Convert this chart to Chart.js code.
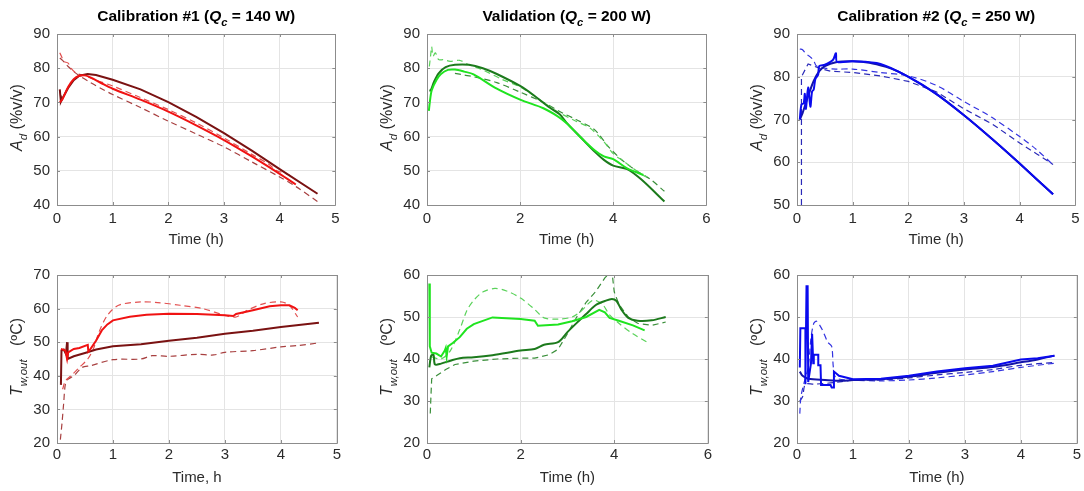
<!DOCTYPE html>
<html lang="en">
<head>
  <meta charset="UTF-8">
  <title>Calibration and validation</title>
  <style>
    body {
      margin: 0;
      padding: 0;
      background-color: #fff;
    }

    #figure {
      position: relative;
      width: 1084px;
      height: 491px;
      overflow: hidden;
    }

    #figure canvas {
      position: absolute;
    }
  </style>
  <script src="https://cdn.jsdelivr.net/npm/chart.js"></script>
</head>
<body>
  <div id="figure"></div>

  <script>
    // ---- data: [time (h), value] ----

    // Calibration #1, A_d (%v/v)
    const cal1AdSolidBright = [[0.05,70],[0.1,71],[0.2,74.5],[0.3,76.8],[0.4,77.8],[0.5,77.9],[0.6,77.3],[0.8,75.6],[1,74],[1.5,70.8],[2,67.3],[2.5,63.3],[3,59],[3.5,54.2],[4,49.1],[4.29,46]];
    const cal1AdSolidDark = [[0.05,73.8],[0.06,72],[0.07,70.2],[0.1,71.2],[0.2,74.2],[0.3,76.5],[0.4,77.8],[0.55,78.3],[0.7,78],[1,76.6],[1.5,73.8],[2,70.1],[2.5,65.8],[3,61],[3.5,55.9],[4,50.5],[4.68,43.3]];
    const cal1AdDashBright = [[0.05,84.5],[0.08,83.5],[0.12,82],[0.2,81.5],[0.25,80],[0.35,78.5],[0.5,77.8],[0.7,76.5],[1,74.8],[1.5,71.4],[2,67.9],[2.5,64],[3,59.6],[3.5,54.8],[3.8,52],[3.95,50],[4.1,49.3],[4.2,48.5]];
    const cal1AdDashDark = [[0.05,83],[0.1,82.3],[0.2,80.5],[0.3,79],[0.4,77.8],[0.6,75.8],[0.8,74],[1,72.3],[1.5,68.5],[2,64.5],[2.5,60.8],[3,57],[3.5,52.6],[4,48.2],[4.3,45.3],[4.7,40.8]];

    // Validation, A_d (%v/v)
    const valAdSolidBright = [[0.04,67.5],[0.06,70],[0.1,73.5],[0.2,76.5],[0.3,78.3],[0.45,79.5],[0.6,79.6],[0.8,79],[1,78.2],[1.5,74],[2,70.8],[2.5,68.3],[2.8,66],[3,63.9],[3.3,59.8],[3.6,56],[3.8,54.2],[4,53.4],[4.3,50.7],[4.65,48.8]];
    const valAdSolidDark = [[0.05,73.5],[0.08,73.5],[0.15,76],[0.25,78.5],[0.4,80.3],[0.6,81],[0.9,81],[1.2,80],[1.5,78.3],[2,74.8],[2.3,72],[2.6,68.8],[2.85,66.5],[3,64],[3.3,59.8],[3.6,55.6],[3.8,53.2],[4,51.5],[4.3,50.5],[4.6,47.5],[5.1,41]];
    const valAdDashBright = [[0.05,80.5],[0.08,84],[0.1,86.3],[0.13,83.5],[0.18,84.5],[0.25,82.5],[0.35,82.5],[0.5,82],[0.7,82.3],[0.9,81],[1.2,79.5],[1.6,76.8],[2,74.5],[2.4,71],[2.8,67.3],[3.2,64.5],[3.5,62.5],[3.8,58.5],[4,55],[4.2,53],[4.4,51],[4.6,49],[4.75,48]];
    const valAdDashDark = [[0.6,78.5],[0.8,78],[1,77.5],[1.5,75.8],[2,73],[2.5,70],[2.9,67],[3.2,65],[3.6,62],[3.9,57],[4.2,53],[4.5,50],[4.8,47.5],[5.1,44]];

    // Calibration #2, A_d (%v/v)
    const cal2AdSolidBright = [[0.05,70],[0.08,73.5],[0.12,73.8],[0.14,76],[0.16,72.5],[0.2,77.5],[0.24,73],[0.27,76.5],[0.3,77],[0.33,79.5],[0.38,80.5],[0.4,82.5],[0.5,82.8],[0.6,83.5],[0.65,84],[0.7,85.5],[0.72,83.5],[1,83.6],[1.5,83],[2,80],[2.5,76],[3,71],[3.5,65.5],[4,59.7],[4.6,52.5]];
    const cal2AdSolidDark = [[0.05,70],[0.1,71.5],[0.2,75.5],[0.3,79],[0.4,81.3],[0.5,82.5],[0.7,83.4],[1,83.6],[1.3,83.3],[1.6,82.3],[1.8,81.3],[2,80],[2.5,76],[3,71],[3.5,65.5],[4,59.7],[4.6,52.5]];
    const cal2AdDashBright = [[0.05,86.5],[0.1,86.3],[0.15,85.5],[0.2,85],[0.25,84.5],[0.3,83.8],[0.35,82.5],[0.5,82],[0.7,81.8],[1,81.8],[1.5,81],[2,80.2],[2.5,78],[3,74.2],[3.5,70.5],[4,66],[4.3,63],[4.6,59.4]];
    const cal2AdDashDark = [[0.08,50],[0.08,80],[0.2,83],[0.4,82],[0.6,81.3],[1,81],[1.5,80.2],[2,78.9],[2.5,76.5],[3,72.5],[3.5,69],[4,64.5],[4.3,62],[4.6,59.5]];

    // Calibration #1, T_w,out (ºC)
    const cal1TSolidBright = [[0.07,48],[0.15,47.5],[0.18,45],[0.2,47],[0.3,48],[0.4,48.3],[0.55,49.2],[0.56,47.2],[0.6,48],[0.7,50.5],[0.8,53.5],[0.9,55.3],[1,56.5],[1.3,57.6],[1.6,58.2],[2,58.5],[2.5,58.4],[3,58],[3.15,57.8],[3.2,58.4],[3.5,59.5],[3.8,60.7],[4,61],[4.15,61],[4.25,60.2],[4.3,59.5]];
    const cal1TSolidDark = [[0.07,37.3],[0.08,47.5],[0.12,47.8],[0.16,46.5],[0.18,50],[0.19,45],[0.3,45.8],[0.5,46.8],[0.7,47.8],[1,48.8],[1.5,49.4],[2,50.4],[2.5,51.3],[3,52.5],[3.5,53.4],[4,54.5],[4.68,55.8]];
    const cal1TDashBright = [[0.1,36],[0.15,38.5],[0.25,40],[0.4,42.5],[0.55,45],[0.65,48],[0.75,53],[0.9,58],[1.1,61],[1.5,62],[1.8,61.8],[2.2,61],[2.6,60],[3,58],[3.2,57.5],[3.4,59.5],[3.7,61.5],[4,62],[4.15,61],[4.3,57.5]];
    const cal1TDashDark = [[0.06,21],[0.09,26],[0.12,32],[0.15,37.5],[0.2,39],[0.3,40],[0.45,42.5],[0.6,43],[1,44.8],[1.5,45],[1.7,46],[2,45.8],[2.5,46.4],[2.8,46.2],[3,47],[3.5,47.5],[4,48.6],[4.3,49],[4.68,49.8]];

    // Validation, T_w,out (ºC)
    const valTSolidBright = [[0.05,58],[0.06,43],[0.1,41.5],[0.2,41.3],[0.3,40.6],[0.38,42],[0.4,42.6],[0.42,40.6],[0.45,43],[0.55,43.8],[0.7,45.2],[0.85,47.2],[1,48.3],[1.4,49.9],[2,49.5],[2.3,49.1],[2.37,47.9],[2.8,48.2],[3.1,49],[3.4,50],[3.68,51.7],[3.8,51.1],[3.9,49.8],[4.1,49.1],[4.4,48],[4.65,46.8]];
    const valTSolidDark = [[0.05,38],[0.09,40.8],[0.14,41],[0.17,38.7],[0.3,38.9],[0.5,39.6],[0.7,40.2],[1,40.4],[1.4,40.9],[2,42],[2.3,42.4],[2.5,43.4],[2.8,44],[3,46.4],[3.2,48.6],[3.4,50.7],[3.6,52.8],[3.8,53.8],[3.95,54.3],[4.05,53.8],[4.15,51.8],[4.3,49.8],[4.5,49.1],[4.8,49.2],[5.1,50]];
    const valTDashBright = [[0.1,40.5],[0.3,40],[0.5,42],[0.7,47],[0.85,51.5],[1,54],[1.2,56],[1.45,56.8],[1.7,56.2],[2,54.5],[2.3,51.8],[2.5,49.8],[2.8,49.5],[3.1,50],[3.3,51.5],[3.55,54],[3.75,53],[3.9,50.5],[4.1,48.5],[4.4,46],[4.7,44]];
    const valTDashDark = [[0.07,27],[0.08,30],[0.1,35.3],[0.2,36],[0.4,37.5],[0.6,38.7],[1,39.5],[1.5,40],[2,40.2],[2.3,40.2],[2.6,41],[2.8,42.3],[3,46],[3.2,50],[3.4,53.5],[3.6,56],[3.8,59.3],[3.95,61],[4,56],[4.1,53],[4.3,50],[4.5,48.5],[4.8,48],[5.1,48.8]];

    // Calibration #2, T_w,out (ºC)
    const cal2TSolidBright = [[0.05,38],[0.06,47.3],[0.15,47.3],[0.15,34],[0.17,57.3],[0.19,57.3],[0.2,34.5],[0.25,39],[0.27,46],[0.29,39],[0.3,41],[0.38,41],[0.38,38.5],[0.42,38.5],[0.43,33.8],[0.6,33.8],[0.62,33.2],[0.65,33.2],[0.66,37],[0.75,36],[1,35.2],[1.5,35.3],[2,36],[2.5,37],[3,37.8],[3.5,38.4],[4,39.9],[4.3,40.2],[4.6,40.8]];
    const cal2TSolidDark = [[0.05,37],[0.1,36],[0.2,35.3],[0.5,35],[0.8,34.8],[1,35],[1.5,35.2],[2,35.8],[2.5,36.7],[3,37.5],[3.5,38.1],[4,39.2],[4.3,39.9],[4.6,40.8]];
    const cal2TDashBright = [[0.05,27],[0.07,31],[0.12,34],[0.2,38],[0.25,45],[0.3,48.5],[0.35,49],[0.45,47],[0.55,44],[0.62,43],[0.65,38],[0.7,35.5],[1,35],[1.5,34.8],[2,35],[2.5,35.5],[3,36.2],[3.5,37],[4,38],[4.6,39]];
    const cal2TDashDark = [[0.05,30],[0.1,31],[0.15,34],[0.3,34],[0.6,34.3],[0.8,34.6],[1,35],[1.5,35],[2,35.5],[2.5,36.2],[3,36.8],[3.5,37.5],[4,38.5],[4.6,39.2]];

    // ---- ticks ----
    const timeTicks5 = [0, 1, 2, 3, 4, 5];
    const timeTicks6 = [0, 2, 4, 6];
    const adTicks40 = [40, 50, 60, 70, 80, 90];
    const adTicks50 = [50, 60, 70, 80, 90];
    const tTicks20to70 = [20, 30, 40, 50, 60, 70];
    const tTicks20to60 = [20, 30, 40, 50, 60];

    // ---- colours per test ----
    const redSet = ['#f01212', '#7a1212', '#e25050', '#a84040'];
    const greenSet = ['#1fe41f', '#1c7a1c', '#5ad25a', '#3a8f3a'];
    const blueSet = ['#0a0aee', '#1414a8', '#3434e0', '#2a2ab8'];

    const FONT = '"Liberation Sans", Arial, sans-serif';
    const AXIS_COLOR = '#8c8c8c';
    const TEXT_COLOR = '#2b2b2b';

    const adLabel = [['A', 'i'], ['d', 'is'], [' (%v/v)', '']];
    const tLabel = [['T', 'i'], ['w,out', 'is'], ['   (ºC)', '']];

    const panels = [
      { left: 57, width: 281, row: 0, xMax: 5, xTicks: timeTicks5, yMin: 40, yMax: 90, yTicks: adTicks40, yLabel: adLabel, xLabel: 'Time (h)',
        title: [['Calibration #1 (', ''], ['Q', 'i'], ['c', 'is'], [' = 140 W)', '']],
        colors: redSet, series: [cal1AdSolidBright, cal1AdSolidDark, cal1AdDashBright, cal1AdDashDark] },
      { left: 427, width: 282, row: 0, xMax: 6, xTicks: timeTicks6, yMin: 40, yMax: 90, yTicks: adTicks40, yLabel: adLabel, xLabel: 'Time (h)',
        title: [['Validation (', ''], ['Q', 'i'], ['c', 'is'], [' = 200 W)', '']],
        colors: greenSet, series: [valAdSolidBright, valAdSolidDark, valAdDashBright, valAdDashDark] },
      { left: 797, width: 281, row: 0, xMax: 5, xTicks: timeTicks5, yMin: 50, yMax: 90, yTicks: adTicks50, yLabel: adLabel, xLabel: 'Time (h)',
        title: [['Calibration #2 (', ''], ['Q', 'i'], ['c', 'is'], [' = 250 W)', '']],
        colors: blueSet, series: [cal2AdSolidBright, cal2AdSolidDark, cal2AdDashBright, cal2AdDashDark] },
      { left: 57, width: 281, row: 1, xMax: 5, xTicks: timeTicks5, yMin: 20, yMax: 70, yTicks: tTicks20to70, yLabel: tLabel, xLabel: 'Time, h',
        title: null, colors: redSet, series: [cal1TSolidBright, cal1TSolidDark, cal1TDashBright, cal1TDashDark] },
      { left: 427, width: 282, row: 1, xMax: 6, xTicks: timeTicks6, yMin: 20, yMax: 60, yTicks: tTicks20to60, yLabel: tLabel, xLabel: 'Time (h)',
        title: null, colors: greenSet, series: [valTSolidBright, valTSolidDark, valTDashBright, valTDashDark] },
      { left: 797, width: 281, row: 1, xMax: 5, xTicks: timeTicks5, yMin: 20, yMax: 60, yTicks: tTicks20to60, yLabel: tLabel, xLabel: 'Time (h)',
        title: null, colors: blueSet, series: [cal2TSolidBright, cal2TSolidDark, cal2TDashBright, cal2TDashDark] }
    ];

    // plot-area rows (top, bottom of axes box, canvas top/height)
    const rows = [
      { top: 34, bottom: 205, canvasTop: 0, canvasH: 250, tickPad: 4.5, titlePad: 1 },
      { top: 275, bottom: 443, canvasTop: 250, canvasH: 241, tickPad: 3, titlePad: 4.5 }
    ];
    const Y_AREA = 57;
    const RIGHT_PAD = 6;

    // draws text made of plain / italic / subscript pieces, centred on x
    const drawRich = (ctx, parts, x, y, size, weight) => {
      const segs = parts.map(([t, st]) => {
        const sub = st.includes('s');
        const s = sub ? size * 0.72 : size;
        const font = `${st.includes('i') ? 'italic ' : ''}${weight} ${s}px ${FONT}`;
        ctx.font = font;
        return { t, font, w: ctx.measureText(t).width, dy: sub ? size * 0.3 : 0 };
      });
      let cx = x - segs.reduce((a, s) => a + s.w, 0) / 2;
      ctx.textAlign = 'left';
      ctx.textBaseline = 'alphabetic';
      segs.forEach((s) => {
        ctx.font = s.font;
        ctx.fillText(s.t, cx, y + s.dy);
        cx += s.w;
      });
    };

    // a series with vertical jumps stays a plain polyline, the rest is smoothed a little
    const hasJumps = (pts) => pts.some((pt, i) => i > 0 && pt[0] - pts[i - 1][0] < 0.015);

    // box with inward ticks, panel title and y label
    const framePlugin = {
      id: 'frame',
      afterDraw(chart, args, opts) {
        const { ctx, chartArea: a, scales } = chart;
        ctx.save();
        ctx.strokeStyle = AXIS_COLOR;
        ctx.lineWidth = 1;
        ctx.beginPath();
        ctx.rect(Math.round(a.left) + 0.5, Math.round(a.top) + 0.5, Math.round(a.right - a.left), Math.round(a.bottom - a.top));
        scales.x.ticks.forEach((t) => {
          const px = Math.round(scales.x.getPixelForValue(t.value)) + 0.5;
          ctx.moveTo(px, a.bottom); ctx.lineTo(px, a.bottom - 3);
          ctx.moveTo(px, a.top); ctx.lineTo(px, a.top + 3);
        });
        scales.y.ticks.forEach((t) => {
          const py = Math.round(scales.y.getPixelForValue(t.value)) + 0.5;
          ctx.moveTo(a.left, py); ctx.lineTo(a.left + 3, py);
          ctx.moveTo(a.right, py); ctx.lineTo(a.right - 3, py);
        });
        ctx.stroke();

        if (opts.title) {
          ctx.fillStyle = '#000';
          drawRich(ctx, opts.title, (a.left + a.right) / 2, a.top - 13, 15.5, 'bold');
        }
        ctx.fillStyle = TEXT_COLOR;
        ctx.translate(a.left - 35, (a.top + a.bottom) / 2 - 2);
        ctx.rotate(-Math.PI / 2);
        drawRich(ctx, opts.yLabel, 0, 0, 16, 'normal');
        ctx.restore();
      }
    };

    const figure = document.getElementById('figure');

    panels.forEach((p) => {
      const row = rows[p.row];
      const canvas = document.createElement('canvas');
      const w = Y_AREA + p.width + RIGHT_PAD;
      canvas.width = w;
      canvas.height = row.canvasH;
      canvas.style.left = (p.left - Y_AREA) + 'px';
      canvas.style.top = row.canvasTop + 'px';
      canvas.style.width = w + 'px';
      canvas.style.height = row.canvasH + 'px';
      figure.appendChild(canvas);

      const datasets = p.series.map((pts, i) => ({
        data: pts,
        borderColor: p.colors[i],
        borderWidth: i < 2 ? 2 : 1.2,
        borderDash: i < 2 ? [] : [6, 4],
        pointRadius: 0,
        tension: hasJumps(pts) ? 0 : 0.3,
        fill: false
      }));

      new Chart(canvas, {
        type: 'line',
        data: { datasets },
        options: {
          responsive: false,
          devicePixelRatio: 1,
          animation: false,
          events: [],
          layout: { padding: { top: row.top - row.canvasTop, right: RIGHT_PAD, left: 0, bottom: 0 } },
          plugins: {
            legend: { display: false },
            tooltip: { enabled: false },
            frame: { title: p.title, yLabel: p.yLabel }
          },
          scales: {
            x: {
              type: 'linear',
              min: 0,
              max: p.xMax,
              afterBuildTicks: (s) => { s.ticks = p.xTicks.map((v) => ({ value: v })); },
              afterFit: (s) => { s.height = row.canvasTop + row.canvasH - row.bottom; },
              grid: { color: '#e4e4e4', drawTicks: false },
              border: { display: false },
              ticks: { color: TEXT_COLOR, font: { family: FONT, size: 15 }, padding: row.tickPad, maxRotation: 0 },
              title: { display: true, text: p.xLabel, color: TEXT_COLOR, font: { family: FONT, size: 15 }, padding: { top: 0, bottom: row.titlePad } }
            },
            y: {
              type: 'linear',
              min: p.yMin,
              max: p.yMax,
              afterBuildTicks: (s) => { s.ticks = p.yTicks.map((v) => ({ value: v })); },
              afterFit: (s) => { s.width = Y_AREA; },
              grid: { color: '#e4e4e4', drawTicks: false },
              border: { display: false },
              ticks: { color: TEXT_COLOR, font: { family: FONT, size: 15 }, padding: 7 }
            }
          }
        },
        plugins: [framePlugin]
      });
    });
  </script>
</body>
</html>
